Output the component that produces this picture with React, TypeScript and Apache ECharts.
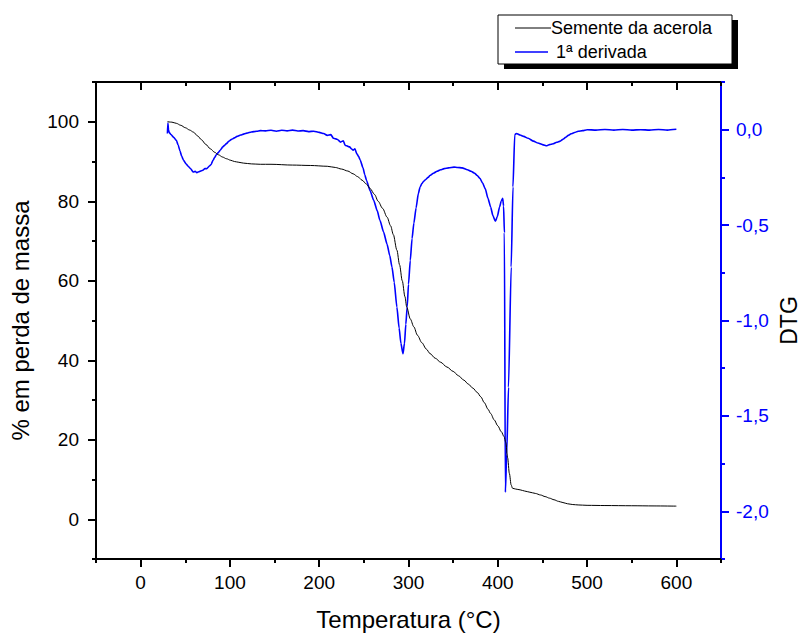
import React, { useEffect, useRef } from "react";
import * as echarts from "echarts";

// Temperature (°C), mass (%) — TG curve "Semente da acerola"
const tgData: [number, number][] = [
  [30, 100], [35, 99.9], [40, 99.6], [45, 99.1], [50, 98.5], [55, 97.9], [59, 97.4], [64, 96.4], [68, 95.5],
  [73, 94.3], [78, 93.2], [83, 92.3], [87, 91.7], [92, 91.1], [96, 90.7], [101, 90.3], [105, 90.0],
  [110, 89.8], [115, 89.6], [124, 89.4], [134, 89.3], [146, 89.3], [170, 89.1], [190, 89.0], [209, 88.8],
  [218, 88.5], [225, 88.1], [232, 87.6], [238, 86.9], [243, 86.2], [248, 85.3], [253, 84.3], [257, 83.2],
  [262, 81.7], [266, 80.0], [271, 78.2], [276, 76.0], [280, 73.8], [283, 71.6], [287, 67.7], [290, 64.0],
  [293, 60.0], [296, 56.0], [298, 53.4], [302, 50.4], [306, 48.4], [310, 46.3], [315, 44.4], [320, 42.8],
  [324, 41.7], [330, 40.5], [336, 39.5], [343, 38.3], [350, 37.2], [356, 36.1], [362, 35.0], [367, 34.0],
  [372, 33.0], [377, 31.9], [381, 30.8], [385, 29.3], [389, 27.7], [392, 26.6], [396, 25.0], [400, 23.5],
  [404, 22.0], [407, 20.8], [409, 19.3], [411, 15.5], [413, 11.5], [415, 8.6], [416.5, 7.8], [420, 7.6],
  [425, 7.4], [430, 7.1], [436, 6.8], [442, 6.5], [448, 6.1], [453, 5.7], [458, 5.3], [463, 4.9],
  [468, 4.5], [473, 4.2], [478, 3.9], [484, 3.7], [490, 3.6], [500, 3.5], [520, 3.45], [550, 3.4],
  [575, 3.35], [600, 3.3],
];

// Temperature (°C), DTG — "1ª derivada"
const dtgData: [number, number][] = [
  [30, -0.02], [30.5, 0.035], [31.2, 0.0], [32, -0.015], [34, -0.025], [37, -0.04], [40, -0.056],
  [42, -0.08], [44, -0.11], [46, -0.14], [48, -0.16], [51, -0.18], [53, -0.19], [56, -0.205],
  [59, -0.222], [61, -0.218], [63, -0.226], [65, -0.22], [67, -0.217], [70, -0.212], [72, -0.203],
  [74, -0.205], [77, -0.19], [79, -0.182], [81, -0.16], [83, -0.145], [85, -0.13], [87, -0.12],
  [89, -0.108], [92, -0.09], [94, -0.082], [96, -0.073], [99, -0.06], [102, -0.05], [105, -0.043],
  [108, -0.035], [112, -0.028], [116, -0.022], [119, -0.018], [124, -0.012], [130, -0.008],
  [134, -0.005], [140, -0.006], [146, -0.003], [152, -0.008], [158, -0.003], [164, -0.006],
  [170, -0.002], [176, -0.007], [182, -0.005], [188, -0.01], [194, -0.008], [200, -0.014],
  [205, -0.02], [209, -0.03], [213, -0.026], [216, -0.045], [220, -0.05], [224, -0.065],
  [227, -0.058], [229, -0.082], [231, -0.085], [234, -0.09], [236, -0.1], [238, -0.108],
  [240, -0.1], [242, -0.125], [244, -0.14], [246, -0.16], [249, -0.2], [251, -0.235],
  [253, -0.266], [257, -0.32], [261, -0.37], [265, -0.425], [268, -0.475], [272, -0.535],
  [276, -0.6], [279, -0.66], [281.5, -0.72], [284, -0.8], [287, -0.93], [289.5, -1.04],
  [291.5, -1.12], [293.8, -1.174], [295.5, -1.12], [297, -1.02], [298.5, -0.93], [300, -0.81],
  [302, -0.685], [304, -0.57], [306, -0.49], [308.5, -0.41], [311, -0.335], [313, -0.3],
  [315, -0.282], [317, -0.27], [319, -0.262], [322, -0.25], [324, -0.24], [328, -0.228],
  [332, -0.218], [336, -0.21], [340, -0.204], [345, -0.2], [351, -0.196], [355, -0.198],
  [360, -0.2], [366, -0.21], [370, -0.218], [374, -0.228], [377, -0.24], [380, -0.255],
  [383, -0.28], [386, -0.31], [389, -0.36], [392, -0.405], [394.5, -0.45], [397.3, -0.48],
  [399.5, -0.455], [402, -0.405], [404, -0.372], [405.5, -0.36], [406.5, -0.4], [407.4, -0.54],
  [408.5, -1.9], [410, -1.7], [412, -1.35], [415, -0.72], [417, -0.3], [419, -0.025],
  [421, -0.02], [425, -0.028], [429, -0.035], [434, -0.045], [440, -0.06], [445, -0.07],
  [450, -0.078], [455, -0.084], [458, -0.078], [462, -0.074], [466, -0.066], [470, -0.06],
  [473, -0.05], [476, -0.04], [479, -0.03], [482, -0.021], [486, -0.015], [490, -0.008],
  [495, -0.005], [500, 0.0], [510, -0.002], [520, 0.001], [530, -0.002], [540, 0.001],
  [550, -0.002], [560, 0.0], [570, -0.002], [580, 0.001], [590, -0.002], [600, 0.002],
];

const xMajor = [0, 100, 200, 300, 400, 500, 600];
const xMinor = [-50, 50, 150, 250, 350, 450, 550, 650];
const yLeftMajor = [0, 20, 40, 60, 80, 100];
const yLeftMinor = [-10, 10, 30, 50, 70, 90, 110];
const yRightMajor = [0, -0.5, -1, -1.5, -2];
const yRightMinor = [0.25, -0.25, -0.75, -1.25, -1.75, -2.25];

const seriesNames = ["Semente da acerola", "1ª derivada"];

const FONT = "'Liberation Sans', Arial, sans-serif";
const BLUE = "#0000ff";

export default function App() {
  const ref = useRef<HTMLDivElement>(null);
  useEffect(() => {
    document.body.style.margin = "0";
    const chart = echarts.init(ref.current!, null, { renderer: "svg" });
    const black = "#000";
    const hiddenLabel = { show: false };
    const hiddenLine = { show: false, onZero: false };
    chart.setOption({
      animation: false,
      backgroundColor: "#fff",
      textStyle: { fontFamily: FONT },
      grid: { left: 96, right: 80, top: 82, bottom: 76, containLabel: false, outerBoundsMode: "none" },
      xAxis: [
        {
          type: "value", position: "bottom", min: -50, max: 650,
          name: "Temperatura (°C)", nameLocation: "middle", nameGap: 48,
          nameTextStyle: { fontSize: 24, color: black, fontFamily: FONT },
          axisLine: { show: true, onZero: false, lineStyle: { color: black, width: 2 } },
          axisTick: { show: true, customValues: xMajor, length: 8, lineStyle: { color: black, width: 2 } },
          axisLabel: { show: true, customValues: xMajor, fontSize: 19, color: black, margin: 14, fontFamily: FONT },
          splitLine: { show: false },
        },
        {
          type: "value", position: "bottom", min: -50, max: 650,
          axisLine: hiddenLine,
          axisTick: { show: true, customValues: xMinor, length: 4, lineStyle: { color: black, width: 2 } },
          axisLabel: hiddenLabel, splitLine: { show: false },
        },
        {
          type: "value", position: "top", min: -50, max: 650,
          axisLine: { show: true, onZero: false, lineStyle: { color: black, width: 2 } },
          axisTick: { show: true, inside: true, customValues: xMajor, length: 8, lineStyle: { color: black, width: 2 } },
          axisLabel: hiddenLabel, splitLine: { show: false },
        },
        {
          type: "value", position: "top", min: -50, max: 650,
          axisLine: hiddenLine,
          axisTick: { show: true, inside: true, customValues: xMinor, length: 4, lineStyle: { color: black, width: 2 } },
          axisLabel: hiddenLabel, splitLine: { show: false },
        },
      ],
      yAxis: [
        {
          type: "value", position: "left", min: -10, max: 110,
          name: "% em perda de massa", nameLocation: "middle", nameGap: 64, nameRotate: 90,
          nameTextStyle: { fontSize: 24, color: black, fontFamily: FONT },
          axisLine: { show: true, onZero: false, lineStyle: { color: black, width: 2 } },
          axisTick: { show: true, customValues: yLeftMajor, length: 8, lineStyle: { color: black, width: 2 } },
          axisLabel: { show: true, customValues: yLeftMajor, fontSize: 19, color: black, margin: 17, fontFamily: FONT },
          splitLine: { show: false },
        },
        {
          type: "value", position: "right", min: -2.25, max: 0.25,
          name: "DTG", nameLocation: "middle", nameGap: 56, nameRotate: 90, nameMoveOverlap: false,
          nameTextStyle: { fontSize: 23, color: black, fontFamily: FONT },
          axisLine: { show: true, onZero: false, lineStyle: { color: BLUE, width: 2 } },
          axisTick: { show: true, customValues: yRightMajor, length: 8, lineStyle: { color: BLUE, width: 2 } },
          axisLabel: {
            show: true, customValues: yRightMajor, fontSize: 19, color: BLUE, margin: 15, fontFamily: FONT,
            formatter: (v: number) => v.toFixed(1).replace(".", ","),
          },
          splitLine: { show: false },
        },
        {
          type: "value", position: "left", min: -10, max: 110,
          axisLine: hiddenLine,
          axisTick: { show: true, customValues: yLeftMinor, length: 4, lineStyle: { color: black, width: 2 } },
          axisLabel: hiddenLabel, splitLine: { show: false },
        },
        {
          type: "value", position: "right", min: -2.25, max: 0.25,
          axisLine: hiddenLine,
          axisTick: { show: true, customValues: yRightMinor, length: 4, lineStyle: { color: BLUE, width: 2 } },
          axisLabel: hiddenLabel, splitLine: { show: false },
        },
      ],
      series: [
        {
          name: seriesNames[0], type: "line", xAxisIndex: 0, yAxisIndex: 0, data: tgData,
          showSymbol: false, smooth: 0.3, smoothMonotone: "x",
          lineStyle: { color: black, width: 1 }, itemStyle: { color: black }, z: 3,
        },
        {
          name: seriesNames[1], type: "line", xAxisIndex: 0, yAxisIndex: 1, data: dtgData,
          showSymbol: false, smooth: 0.2, smoothMonotone: "x",
          lineStyle: { color: BLUE, width: 1.6 }, itemStyle: { color: BLUE }, z: 2,
        },
      ],
      graphic: [
        { type: "rect", shape: { x: 504, y: 20, width: 234, height: 49 }, style: { fill: "#000" }, z: 10 },
        { type: "rect", shape: { x: 498, y: 15, width: 234, height: 49 }, style: { fill: "#fff", stroke: "#000", lineWidth: 1 }, z: 11 },
        { type: "line", shape: { x1: 515, y1: 28, x2: 551, y2: 28 }, style: { stroke: "#000", lineWidth: 1 }, z: 12 },
        {
          type: "text", x: 551, y: 28, z: 12,
          style: { text: seriesNames[0], font: `18px ${FONT}`, fill: "#000", verticalAlign: "middle", align: "left" },
        },
        { type: "line", shape: { x1: 515, y1: 52, x2: 548, y2: 52 }, style: { stroke: BLUE, lineWidth: 1.5 }, z: 12 },
        {
          type: "text", x: 556, y: 52, z: 12,
          style: { text: seriesNames[1], font: `18px ${FONT}`, fill: "#000", verticalAlign: "middle", align: "left" },
        },
      ],
    });
    return () => chart.dispose();
  }, []);
  return <div ref={ref} style={{ width: 801, height: 635 }} />;
}
